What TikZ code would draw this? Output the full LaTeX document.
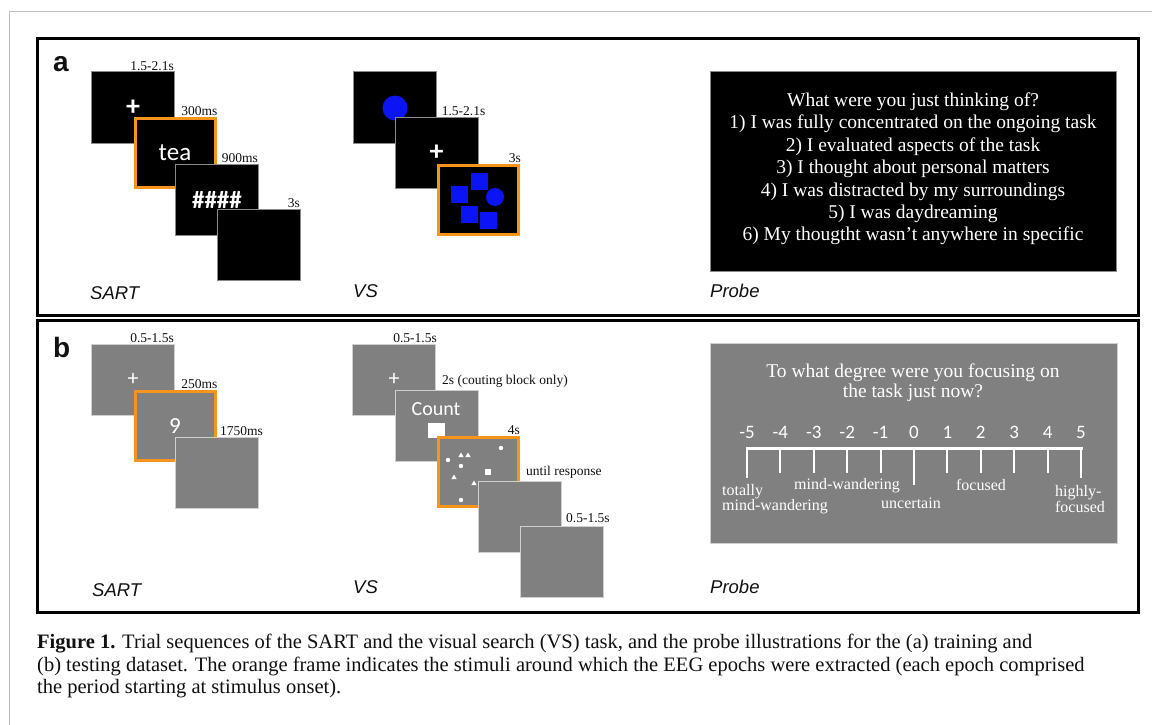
\documentclass[tikz,border=0pt]{standalone}
\usepackage{fontspec}
\setmainfont{Liberation Serif}
\setsansfont{Liberation Sans}
\newfontfamily\stimfont{Carlito}
\usetikzlibrary{positioning,calc}
\definecolor{Ink}{HTML}{111111}
\definecolor{PageLine}{HTML}{BDBDBD}
\definecolor{ScreenEdge}{HTML}{8A8A8A}
\definecolor{ScreenGray}{HTML}{808080}
\definecolor{GrayEdge}{HTML}{CFCFCF}
\definecolor{Cue}{HTML}{F7941D}
\definecolor{Target}{HTML}{0A14F5}
\tikzset{
  blackscreen/.style={draw=ScreenEdge,fill=black,line width=1pt,minimum width=83pt,minimum height=71pt,inner sep=0pt,text=white,font=\stimfont},
  grayscreen/.style={draw=GrayEdge,fill=ScreenGray,line width=1pt,minimum width=83pt,minimum height=71pt,inner sep=0pt,text=white,font=\stimfont},
  cuescreen/.style={draw=Cue,line width=3pt,minimum width=80pt,minimum height=69pt},
  timelabel/.style={font=\fontsize{13.5}{14}\selectfont,inner sep=1pt,text=Ink},
  tasklabel/.style={font=\sffamily\itshape\fontsize{18.5}{19}\selectfont,anchor=base west,inner sep=0pt,text=Ink},
  panelletter/.style={font=\sffamily\bfseries\fontsize{28}{28}\selectfont,anchor=base west,inner sep=0pt,text=Ink},
  panelframe/.style={draw=black,line width=3pt},
  probebox/.style={draw=ScreenEdge,line width=1pt,minimum width=406pt,minimum height=199pt,inner sep=0pt,align=center,text=white},
  scaletext/.style={font=\fontsize{16}{12}\selectfont,text=white,inner sep=0pt,align=left},
  shapeblue/.style={fill=Target},
  dotwhite/.style={fill=white}
}

\begin{document}
\begin{tikzpicture}[x=1pt,y=-1pt]
  \useasboundingbox (0,0) rectangle (1152,725);
  \fill[white] (0,0) rectangle (1152,725);
  \draw[PageLine,line width=1pt] (9,725) -- (9,12) -- (1152,12);

  % panel frames
  \draw[panelframe] (37,39) rectangle (1138,315);
  \draw[panelframe] (37,320) rectangle (1138,612);
  \node[panelletter] (letA) at (53,72) {a};
  \node[panelletter] (letB) at (53,357) {b};

  % ---- a: SART
  \node[blackscreen] (sartA1) at (133,107.5) {\bfseries\fontsize{28}{28}\selectfont +};
  \node[blackscreen,cuescreen] (sartA2) at (175,153) {\fontsize{25}{25}\selectfont tea};
  \node[blackscreen] (sartA3) at (217,199.5) {\bfseries\fontsize{25}{25}\selectfont \#\#\#\#};
  \node[blackscreen] (sartA4) at (259,244.5) {};
  \node[timelabel,anchor=south east] (tA1) at (sartA1.north east) {1.5-2.1s};
  \node[timelabel,anchor=south east] (tA2) at ([xshift=2pt]sartA2.north east) {300ms};
  \node[timelabel,anchor=south east] (tA3) at (sartA3.north east) {900ms};
  \node[timelabel,anchor=south east] (tA4) at (sartA4.north east) {3s};
  \node[tasklabel] (sartA) at (90,299) {SART};

  % ---- a: VS
  \node[blackscreen] (vsA1) at (394.5,107.5) {};
  \fill[shapeblue] (395,108) circle (12.5);
  \node[blackscreen] (vsA2) at (436.5,152.5) {\bfseries\fontsize{28}{28}\selectfont +};
  \node[blackscreen,cuescreen] (vsA3) at (478.5,200) {};
  \fill[shapeblue] (471,173) rectangle (488,190);
  \fill[shapeblue] (451,186) rectangle (468,203);
  \fill[shapeblue] (495,197) circle (9);
  \fill[shapeblue] (461,206) rectangle (478,223);
  \fill[shapeblue] (480,212) rectangle (497,229);
  \node[timelabel,anchor=south east] (tV1) at ([xshift=8pt]vsA2.north east) {1.5-2.1s};
  \node[timelabel,anchor=south east] (tV2) at ([xshift=2pt]vsA3.north east) {3s};
  \node[tasklabel] (vsA) at (353,297) {VS};

  % ---- a: probe
  \node[probebox,fill=black] (probeA) at (913,171.5) {};
  \node[font=\fontsize{19.5}{22.4}\selectfont,text=white,align=center] (questA) at (913,169) {What were you just thinking of?\\
    1) I was fully concentrated on the ongoing task\\
    2) I evaluated aspects of the task\\
    3) I thought about personal matters\\
    4) I was distracted by my surroundings\\
    5) I was daydreaming\\
    6) My thougtht wasn’t anywhere in specific};
  \node[tasklabel] (probeLA) at (710,297) {Probe};

  % ---- b: SART
  \node[grayscreen] (sartB1) at (133,379.5) {\fontsize{22}{22}\selectfont +};
  \node[grayscreen,cuescreen] (sartB2) at (175,426) {\fontsize{23}{23}\selectfont 9};
  \node[grayscreen] (sartB3) at (217,472.5) {};
  \node[timelabel,anchor=south east] (tB1) at (sartB1.north east) {0.5-1.5s};
  \node[timelabel,anchor=south east] (tB2) at ([xshift=2pt]sartB2.north east) {250ms};
  \node[timelabel,anchor=south east] (tB3) at ([xshift=5pt]sartB3.north east) {1750ms};
  \node[tasklabel] (sartB) at (92,596) {SART};

  % ---- b: VS
  \node[grayscreen] (vsB1) at (394,379.5) {\fontsize{22}{22}\selectfont +};
  \node[grayscreen] (vsB2) at (436.5,425.5) {};
  \node[font=\stimfont\fontsize{20}{20}\selectfont,text=white] (countB) at (436,409) {Count};
  \fill[white] (428,423) rectangle (445,438);
  \node[grayscreen,cuescreen] (vsB3) at (478.5,472) {};
  \foreach \px/\py in {501/448,448/460,461/466,461/500}
    \fill[dotwhite] (\px,\py) circle (2.2);
  \foreach \px/\py in {461/455,468/455,454/477,474/483}
    \fill[dotwhite] (\px-2.6,\py+2) -- (\px+2.6,\py+2) -- (\px,\py-2.5) -- cycle;
  \fill[dotwhite] (485,469) rectangle (491,475);
  \node[grayscreen] (vsB4) at (520,516.5) {};
  \node[grayscreen] (vsB5) at (561.5,561.5) {};
  \node[timelabel,anchor=south east] (tW1) at ([xshift=2pt]vsB1.north east) {0.5-1.5s};
  \node[timelabel,anchor=south west] (tW2) at (441,389) {2s (couting block only)};
  \node[timelabel,anchor=south east] (tW3) at ([xshift=1pt]vsB3.north east) {4s};
  \node[timelabel,anchor=south west] (tW4) at (525,480) {until response};
  \node[timelabel,anchor=south west] (tW5) at (565,524) {0.5-1.5s};
  \node[tasklabel] (vsB) at (353,593) {VS};

  % ---- b: probe
  \node[probebox,draw=GrayEdge,fill=ScreenGray,minimum width=407pt,minimum height=200pt] (probeB) at (913.5,443) {};
  \node[font=\fontsize{19.5}{20}\selectfont,text=white,align=center] (questB) at (913,383) {To what degree were you focusing on\\the task just now?};
  \draw[white,line width=3pt] (746,448) -- (1083,448);
  \foreach \v [count=\i from 0] in {-5,-4,...,5} {
    \pgfmathsetmacro{\tx}{747+33.4*\i}
    \pgfmathsetmacro{\ty}{ifthenelse(\i==0||\i==10,478,ifthenelse(\i==5,485,473))}
    \node[font=\stimfont\fontsize{19}{19}\selectfont,text=white,inner sep=0pt] (num\i) at (\tx,432) {\v};
    \draw[white,line width=2pt] (\tx,448) -- (\tx,\ty);
  }
  \node[scaletext] (lblTotal) at (775,499) {totally\\mind-wandering};
  \node[scaletext] (lblWander) at (847,486) {mind-wandering};
  \node[scaletext] (lblUnsure) at (911,503) {uncertain};
  \node[scaletext] (lblFocus) at (981,485) {focused};
  \node[scaletext] (lblHigh) at (1080,499) {highly-\\focused};
  \node[tasklabel] (probeLB) at (710,593) {Probe};

  % ---- caption
  \node[anchor=north west,align=left,inner sep=0pt,text=Ink,font=\fontsize{20.5}{22.5}\selectfont] (caption) at (37,634)
    {\textbf{Figure 1.} Trial sequences of the SART and the visual search (VS) task, and the probe illustrations for the (a) training and\\
     (b) testing dataset. The orange frame indicates the stimuli around which the EEG epochs were extracted (each epoch comprised\\
     the period starting at stimulus onset).};
\end{tikzpicture}
\end{document}
